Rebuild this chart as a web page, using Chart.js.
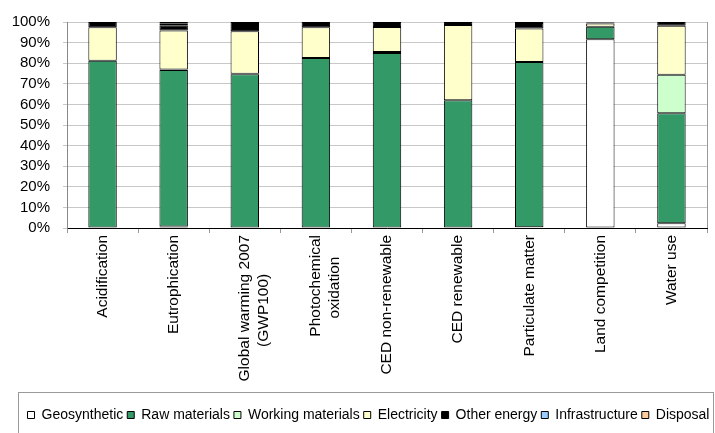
<!DOCTYPE html>
<html>
<head>
<meta charset="utf-8">
<script src="https://cdn.jsdelivr.net/npm/chart.js@4.4.1/dist/chart.umd.min.js"></script>
<style>
  html, body { margin: 0; padding: 0; background: #fff; }
  canvas { display: block; }
</style>
</head>
<body>
<canvas id="myChart" width="715" height="433"></canvas>
<script>
// categories
var categorias = ['Acidification', 'Eutrophication', ['Global warming 2007', '(GWP100)'], ['Photochemical', 'oxidation'],
  'CED non-renewable', 'CED renewable', 'Particulate matter', 'Land competition', 'Water use']

// shares in % per category
var geosynthetic = [0.3, 0.7, 0.2, 0.2, 0.2, 0, 0.4, 91.6, 2.3]
var rawMaterials = [80.9, 76.0, 74.4, 82.3, 84.8, 62.0, 80.2, 6.1, 53.4]
var workingMaterials = [0, 0.2, 0.3, 0, 0.4, 0, 0, 0, 18.7]
var electricity = [16.3, 19.0, 20.6, 14.9, 12.2, 36.5, 16.3, 1.6, 23.8]
var otherEnergy = [2.5, 2.5, 4.5, 2.6, 2.4, 1.5, 2.6, 0.4, 1.8]
var infrastructure = [0, 0.8, 0, 0, 0, 0, 0.5, 0.3, 0]
var disposal = [0, 0.8, 0, 0, 0, 0, 0, 0, 0]

var yTicks = [0, 10, 20, 30, 40, 50, 60, 70, 80, 90, 100]

var fonte = '"Liberation Sans", Arial, sans-serif'
var tamX = 15.5

function serie(nome, dados, cor) {
    return {
        label: nome,
        // zero shares get no bar (otherwise a border line is drawn)
        data: dados.map(function (v) { return v === 0 ? null : v }),
        backgroundColor: cor,
        borderColor: '#000',
        borderWidth: 1,
        borderSkipped: false,
        barPercentage: 0.4,
        categoryPercentage: 1
    }
}

// rotated labels are right aligned in Chart.js, pad short lines so they look centered
function centrar(label) {
    if (!Array.isArray(label)) return label
    var m = document.createElement('canvas').getContext('2d')
    m.font = tamX + 'px ' + fonte
    var larg = label.map(function (l) { return m.measureText(l).width })
    var maior = Math.max.apply(null, larg)
    var esp = m.measureText(' ').width
    return label.map(function (l, i) {
        var n = Math.round((maior - larg[i]) / 2 / esp)
        return l + ' '.repeat(n)
    })
}

// legend frame and right border of plot, like the original
const moldura = {
    id: 'moldura',
    afterLayout(chart) {
        // legend sits a bit right of center in the original
        chart.legend.left += 15
        chart.legend.right += 15
    },
    afterDraw(chart) {
        const c = chart.ctx
        const a = chart.chartArea
        c.save()
        c.strokeStyle = '#999'
        c.lineWidth = 1
        c.strokeRect(18.5, 392.5, 695, 60)
        c.beginPath()
        c.moveTo(Math.round(a.right) + 0.5, a.top)
        c.lineTo(Math.round(a.right) + 0.5, a.bottom)
        c.stroke()
        c.restore()
    }
}

Chart.defaults.font.family = fonte
Chart.defaults.color = '#000'

const ctx = document.getElementById('myChart').getContext('2d')
const myChart = new Chart(ctx, {
    type: 'bar',
    data: {
        labels: categorias.map(centrar),
        datasets: [
            serie('Geosynthetic', geosynthetic, '#ffffff'),
            serie('Raw materials', rawMaterials, '#339966'),
            serie('Working materials', workingMaterials, '#ccffcc'),
            serie('Electricity', electricity, '#ffffcc'),
            serie('Other energy', otherEnergy, '#000000'),
            serie('Infrastructure', infrastructure, '#99ccff'),
            serie('Disposal', disposal, '#ffcc99')
        ]
    },
    options: {
        responsive: false,
        animation: false,
        layout: { padding: { top: 21, right: 8, left: 0, bottom: 1 } },
        plugins: {
            tooltip: { enabled: false },
            legend: {
                position: 'bottom',
                labels: {
                    boxWidth: 7,
                    boxHeight: 7,
                    padding: 4,
                    font: { size: 14 },
                    useBorderRadius: false
                }
            }
        },
        scales: {
            x: {
                stacked: true,
                grid: { display: true, drawOnChartArea: false, color: '#999', tickLength: 5, offset: true },
                border: { color: '#000', width: 1 },
                ticks: { maxRotation: 90, minRotation: 90, font: { size: tamX }, padding: 2 },
                afterFit(scale) { scale.height = 176 }
            },
            y: {
                stacked: true,
                min: 0,
                max: 100,
                afterBuildTicks(scale) { scale.ticks = yTicks.map(function (v) { return { value: v } }) },
                ticks: { autoSkip: false, font: { size: 15 }, padding: 13, callback: function (v) { return v + '%' } },
                grid: { color: '#c8c8c8', tickLength: 4 },
                border: { color: '#888' },
                afterFit(scale) { scale.width = 67 }
            }
        }
    },
    plugins: [moldura]
})
</script>
</body>
</html>
